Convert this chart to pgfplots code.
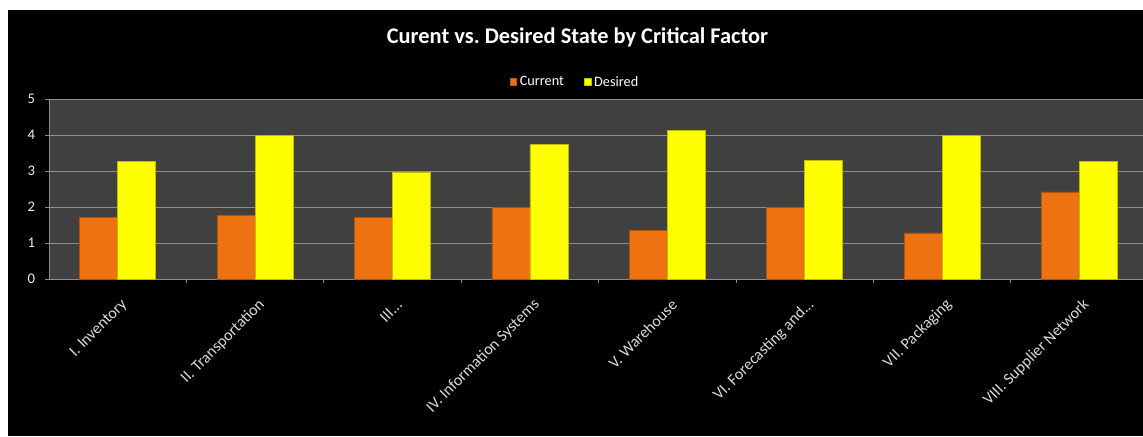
\documentclass[border=0pt]{standalone}
\usepackage{pgfplots}
\pgfplotsset{compat=1.18}
\usepackage{fontspec}
\setmainfont{Carlito}
\frenchspacing
\definecolor{plotbg}{HTML}{404040}
\definecolor{gridc}{HTML}{8C8C8C}
\definecolor{curorange}{HTML}{EE7210}
\definecolor{curedge}{HTML}{B0560C}
\definecolor{desyellow}{HTML}{FFFF00}
\definecolor{desedge}{HTML}{BDBD00}
\definecolor{ticktext}{HTML}{D9D9D9}
\definecolor{ylabtext}{HTML}{E8EEF5}
\newcommand{\dd}{.\kern0pt.\kern0pt.}
\begin{document}
\begin{tikzpicture}
\path[use as bounding box] (0,0) rectangle (857.25pt,327pt);
\fill[white] (0,0) rectangle (857.25pt,327pt);
\fill[black] (6pt,0) rectangle (857.25pt,{(436-10)*0.75pt});
\node[text=white, font=\bfseries\fontsize{16.8}{19}\selectfont] at ({577.5*0.75pt},{(436-37)*0.75pt}) {Curent vs. Desired State by Critical Factor};
\begin{axis}[
  at={({49*0.75pt},{(436-279)*0.75pt})}, anchor=south west,
  scale only axis, width={1094*0.75pt}, height={180*0.75pt},
  xmin=-0.5, xmax=7.462, ymin=0, ymax=5,
  ybar=0pt, bar width=0.2766,
  axis background/.style={fill=plotbg},
  axis lines=left,
  axis line style={-, draw=gridc, line width=0.75pt},
  ymajorgrids, grid style={draw=gridc, line width=0.75pt},
  ytick={0,1,2,3,4,5},
  xtick={0,1,2,3,4,5,6,7},
  xticklabels={I. Inventory, II. Transportation, {III\dd}, IV. Information Systems, V. Warehouse, {VI. Forecasting and\dd}, VII. Packaging, VIII. Supplier Network},
  tick align=outside, major tick length=3pt,
  tick style={draw=gridc, line width=0.75pt},
  xtick style={draw=none},
  extra x ticks={0.5,1.5,2.5,3.5,4.5,5.5,6.5},
  extra x tick labels={},
  extra x tick style={xtick style={draw=gridc, line width=0.75pt}, grid=none},
  /pgf/number format/assume math mode=true,
  yticklabel style={text=ylabtext, font=\fontsize{11}{12}\selectfont, xshift=-4pt},
  xticklabel style={text=ticktext, font=\fontsize{12}{14}\selectfont, rotate=45, anchor=east, xshift=-3pt, yshift=-14pt},
  legend style={at={(0.481,1.094)}, anchor=center, draw=none, fill=none, text=white,
    font=\fontsize{10.7}{12}\selectfont, legend columns=2,
    /tikz/every even column/.append style={column sep=13pt}},
  legend image code/.code={\fill[#1] (0pt,-2.6pt) rectangle (5.2pt,2.6pt);},
]
\addplot[fill=curorange, draw=curedge, line width=0.5pt] coordinates {
 (0,1.70) (1,1.77) (2,1.71) (3,1.98) (4,1.35) (5,1.98) (6,1.28) (7,2.42)};
\addplot[fill=desyellow, draw=desedge, line width=0.5pt] coordinates {
 (0,3.27) (1,4.00) (2,2.96) (3,3.73) (4,4.13) (5,3.30) (6,4.00) (7,3.27)};
\legend{Current, Desired}
\end{axis}
\end{tikzpicture}
\end{document}
